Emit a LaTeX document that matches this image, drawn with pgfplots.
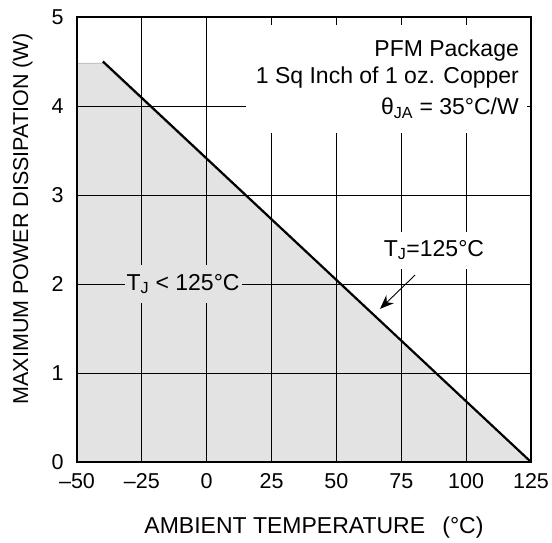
\documentclass[border=0pt]{standalone}
\usepackage{fontspec}
\setmainfont{Liberation Sans}
\usepackage{pgfplots}
\pgfplotsset{compat=1.18}
\usetikzlibrary{arrows.meta}
\definecolor{fillgray}{HTML}{E3E3E3}
\definecolor{edgegray}{HTML}{C4C4C4}
\begin{document}
\begin{tikzpicture}
\begin{axis}[
  set layers=standard,
  at={(0,0)}, anchor=south west,
  scale only axis, width=454pt, height=445pt,
  xmin=-50, xmax=125, ymin=0, ymax=5,
  xtick={-50,-25,0,25,50,75,100,125},
  xticklabels={–50,–25,0,25,50,75,100,125},
  ytick={0,1,2,3,4,5},
  yticklabels={0,1,2,3,4,5},
  grid=major,
  grid style={black, line width=0.9pt},
  axis line style={line width=1.6pt},
  tick style={black, line width=0.9pt},
  major tick length=8pt,
  tick label style={font=\fontsize{21.5}{25}\selectfont},
  xticklabel style={yshift=-8pt},
  yticklabel style={xshift=-10pt},
  every axis x label/.style={at={(axis description cs:0.522,-0.148)}, anchor=center},
  every axis y label/.style={at={(axis description cs:-0.120,0.546)}, anchor=center, rotate=90},
  label style={font=\fontsize{21.5}{25}\selectfont},
  x label style={font=\fontsize{23}{27}\selectfont},
  xlabel={AMBIENT TEMPERATURE\hspace{0.75em}(°C)},
  ylabel={MAXIMUM POWER DISSIPATION (W)},
]
\addplot[on layer=axis background, fill=fillgray, draw=edgegray, line width=1pt]
  coordinates {(-50,0) (-50,4.48) (-40,4.48) (125,0)} \closedcycle;
\addplot[black, line width=2.2pt] coordinates {(-40,4.5) (125,0)};

\fill[white] (axis cs:15.1,3.70) rectangle (axis cs:123.5,4.91);
\node[anchor=base east, font=\fontsize{23}{27}\selectfont, inner sep=0pt] at (axis cs:120.4,4.551) {PFM Package};
\node[anchor=base east, font=\fontsize{23}{27}\selectfont, inner sep=0pt] at (axis cs:120.4,4.258) {1 Sq Inch of 1 oz. Copper};
\node[anchor=base east, font=\fontsize{23}{27}\selectfont, inner sep=0pt] at (axis cs:120.4,3.899) {θ\textsubscript{JA} = 35°C/W};

\node[fill=fillgray, font=\fontsize{23}{27}\selectfont, inner xsep=2pt, minimum height=38pt] at (axis cs:-9.1,2.0) {T\textsubscript{J} < 125°C};
\node[fill=white, font=\fontsize{23}{27}\selectfont, inner xsep=3pt, minimum height=37pt] at (axis cs:87.6,2.38) {T\textsubscript{J}=125°C};
\draw[-{Stealth[length=14pt,width=11pt]}, line width=0.9pt] (axis cs:80.3,2.10) -- (axis cs:66.8,1.72);
\end{axis}
\pgfresetboundingbox
\path[use as bounding box] (-77pt,-81pt) rectangle (475pt,462pt);
\end{tikzpicture}
\end{document}
